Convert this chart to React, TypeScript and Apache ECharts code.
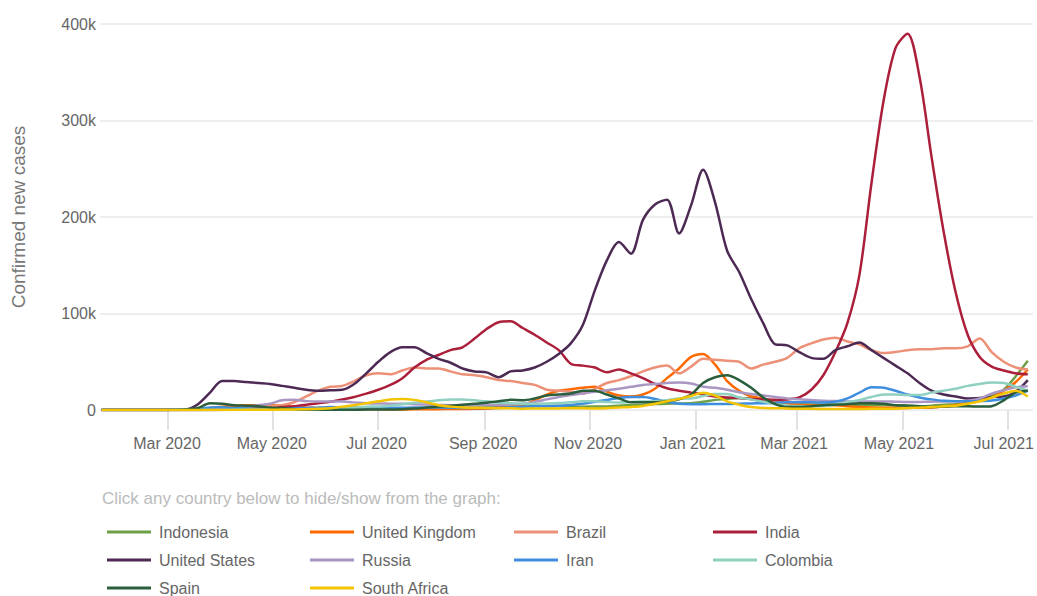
import React, { useEffect, useRef } from "react";
import * as echarts from "echarts";

const dates = [
  "2020-01-23","2020-01-30","2020-02-06","2020-02-13","2020-02-20","2020-02-27","2020-03-05","2020-03-12","2020-03-19","2020-03-26",
  "2020-04-02","2020-04-09","2020-04-16","2020-04-23","2020-04-30","2020-05-07","2020-05-14","2020-05-21","2020-05-28","2020-06-04",
  "2020-06-11","2020-06-18","2020-06-25","2020-07-02","2020-07-09","2020-07-16","2020-07-23","2020-07-30","2020-08-06","2020-08-13",
  "2020-08-20","2020-08-27","2020-09-03","2020-09-10","2020-09-17","2020-09-24","2020-10-01","2020-10-08","2020-10-15","2020-10-22",
  "2020-10-29","2020-11-05","2020-11-12","2020-11-19","2020-11-26","2020-12-03","2020-12-10","2020-12-17","2020-12-24","2020-12-31",
  "2021-01-07","2021-01-14","2021-01-21","2021-01-28","2021-02-04","2021-02-11","2021-02-18","2021-02-25","2021-03-04","2021-03-11",
  "2021-03-18","2021-03-25","2021-04-01","2021-04-08","2021-04-15","2021-04-22","2021-04-29","2021-05-06","2021-05-13","2021-05-20",
  "2021-05-27","2021-06-03","2021-06-10","2021-06-17","2021-06-24","2021-07-01","2021-07-08","2021-07-15"
];

// values in thousands of confirmed new cases (7-day average)
const indonesia = [
  0,0,0,0,0,0,0,0,0,0,
  0.1,0.2,0.3,0.3,0.3,0.35,0.45,0.55,0.6,0.65,
  0.9,1,1.1,1.3,1.5,1.6,1.7,1.9,1.9,2,
  2.1,2.3,2.8,3.2,3.7,4,4.3,4.2,4.2,4,
  3.4,3.6,3.7,4.5,5,5.5,6.2,6.6,6.8,7,
  8.5,10.5,11.5,12.5,11.5,9,8.5,7.5,6.5,5.8,
  5.5,5.5,5.5,5,5,5,5,4.5,3.5,4.5,
  5.5,6,7.5,10,14.5,21,35,51
];
const unitedKingdom = [
  0,0,0,0,0,0,0,0.1,0.5,1.8,
  3.5,4.5,4.8,4.8,4.8,4.3,3.4,2.7,2.2,1.8,
  1.4,1.2,0.95,0.8,0.6,0.6,0.65,0.75,0.9,1,
  1.1,1.2,1.4,2.5,3.5,5,10,16,20,21.5,
  23,24,19,15,14,16,22,33,43,55,
  58,47,30,20,14,12,8.5,7,5.5,5,
  5,5,4,3,2.5,2.3,2.2,2.2,2.3,2.6,
  3.5,5,7,9.5,13,20,29,42
];
const brazil = [
  0,0,0,0,0,0,0,0,0.05,0.2,
  0.8,1.2,1.8,2.5,4,5,8,14,20,24,
  25,30,36,38,37,41,44,43,43,40,
  37,36,34,31,30,28,26,21,20,19,
  17,22,28,31,35,40,44,46,38,45,
  53,52,51,50,43,47,50,54,64,69,
  73,75,71,68,62,59,60,62,63,63,
  64,64,66,74,60,50,44,42
];
const india = [
  0,0,0,0,0,0,0,0,0,0.1,
  0.3,0.8,1.1,1.5,1.8,3,3.8,5.5,7,8.5,
  11,13.5,17,21,26,33,44,52,57,62,
  65,74,84,91,92,85,78,70,62,48,
  46,44,39,42,38,33,27,22.5,20,18,
  16,14,13,12.5,11.5,11,10.5,11,13,21,
  36,60,90,140,235,320,375,390,345,262,
  185,122,78,55,45,41,38,37
];
const unitedStates = [
  0,0,0,0,0,0,0.2,0.5,6,18,
  30,30,29,28,27,25,23,21,20,20.5,
  21,27,38,50,60,65,65,59,53,49,
  43,40,39,34,40,41,44,50,58,69,
  88,124,155,174,162,197,213,218,183,212,
  249,215,165,143,115,90,68,67,60,54,
  53,62,66,70,62,54,46,38,28,20,
  16,14,12,12.5,13.5,14,19,31
];
const russia = [
  0,0,0,0,0,0,0,0,0,0.1,
  0.5,1.4,3.3,5,6.5,10,10.5,9.2,8.7,8.8,
  8.7,7.9,7,6.7,6.6,6.4,6,5.6,5.2,5,
  4.8,4.8,5,5.3,5.8,6.5,8.5,11,13.5,15.5,
  17,19,20.5,22,24,26,27,28,28.5,27.5,
  24,23,21,18.5,16.5,15,13.5,12,11.2,10.3,
  9.6,9.2,8.9,8.8,8.7,8.9,8.6,8.3,8.4,8.6,
  8.8,9,9.7,12,17,20.5,23.5,24.5
];
const iran = [
  0,0,0,0,0,0.1,0.5,0.9,1.1,2.5,
  2.9,2.1,1.6,1.2,1.1,1.4,1.8,2.2,2.5,3,
  2.6,2.5,2.6,2.7,2.4,2.4,2.5,2.5,2.5,2.3,
  2.2,2.1,2,2.2,2.8,3.4,3.8,4,4.3,5.2,
  6.5,8.5,10.5,12.5,13.5,13.5,11.5,8.5,6.5,6,
  6,6.2,6.2,6.5,6.8,7,7.5,8,8,8,
  7.8,8.5,12,18,23.5,23,20,16,13,11,
  9.5,9,9,9.2,9.8,12,15,20
];
const colombia = [
  0,0,0,0,0,0,0,0,0.02,0.06,
  0.1,0.15,0.2,0.25,0.35,0.45,0.5,0.65,0.8,1.1,
  1.6,2.5,3.4,3.6,4.5,6,7.5,8.8,10,11,
  11,10,9,7.5,7,6.5,6.5,6.8,7.2,8,
  9,9,8.3,7.8,8.3,8.8,9,10,12,12,
  14.5,16.5,16.5,13,11,8.5,6,4.5,4,3.7,
  4.2,5.5,8,10.5,13.5,16,16,15.5,15.5,18,
  20,22,25,27,28.5,28,24,20
];
const spain = [
  0,0,0,0,0,0,0.05,0.4,2,7,
  6.5,5,4.5,4,2.5,2,1,0.6,0.4,0.3,
  0.3,0.35,0.4,0.4,0.6,0.9,1.5,2.5,3.5,4.5,
  5.5,6.5,7.5,9,10.5,10,12,15,16,17,
  20,20,16,12,8,8,8,9,11,16,
  28,34,36,31,23,13,6,3,3,4,
  5,5.5,6,7,7,6.5,5,4.5,4,3,
  3.5,4,4,3.5,4,10,18,20
];
const southAfrica = [
  0,0,0,0,0,0,0,0,0,0.1,
  0.1,0.1,0.15,0.2,0.3,0.45,0.6,0.8,1.2,1.7,
  3.5,5,7,9,11,11.5,10.5,8,5,3.5,
  2.5,2.3,2.1,1.8,1.8,1.4,1.5,1.5,1.6,1.8,
  1.7,1.6,1.9,2.6,3.2,4.2,6.5,9,11.5,14.5,
  18,15,9,5.5,3,2,1.8,1.6,1.2,1.2,
  1.1,1.1,1.2,1.1,1.2,1.2,1.3,2,2.5,3,
  4,4.5,6.5,9,13,17,20,14
];

const countries = [
  "Indonesia","United Kingdom","Brazil","India","United States",
  "Russia","Iran","Colombia","Spain","South Africa"
];
const seriesValues = [
  indonesia, unitedKingdom, brazil, india, unitedStates,
  russia, iran, colombia, spain, southAfrica
];
const colors = [
  "#6ea046","#ff6a00","#ec9178","#ac1f3a","#4d2a54",
  "#a996c2","#3e8ee0","#8fd0c0","#2a5e3c","#f5c400"
];
const yTicks = [0, 100, 200, 300, 400];
const monthNames = ["Jan","Feb","Mar","Apr","May","Jun","Jul","Aug","Sep","Oct","Nov","Dec"];

const FONT = "'Liberation Sans', Arial, sans-serif";
const X_MIN = "2020-01-22";
const X_MAX = "2021-07-18";
const TWO_MONTHS = 62 * 86400000;

export default function App() {
  const ref = useRef<HTMLDivElement>(null);
  useEffect(() => {
    if (!ref.current) return;
    const chart = echarts.init(ref.current, undefined, { renderer: "svg" });
    const colX = [107, 310, 514, 713];
    const rowY = [533, 561, 589];
    const legends = countries.map((name, i) => ({
      data: [name],
      left: colX[i % 4],
      top: rowY[Math.floor(i / 4)] - 9,
      padding: 0,
      itemWidth: 44,
      itemHeight: 3,
      icon: "rect",
      itemGap: 0,
      textStyle: { fontSize: 16, color: "#666", fontFamily: FONT, padding: [0, 0, 0, 3] },
    }));
    chart.setOption({
      animation: false,
      color: colors,
      grid: [
        { left: 100, right: 0, top: 24, bottom: 186, containLabel: false },
        { left: 100, right: 0, top: 411, height: 19, containLabel: false },
      ],
      legend: legends,
      graphic: [
        {
          type: "text",
          left: 102,
          top: 490,
          style: {
            text: "Click any country below to hide/show from the graph:",
            fontSize: 17,
            fill: "#bbb",
            fontFamily: FONT,
          },
        },
      ],
      xAxis: [
        {
          type: "time",
          gridIndex: 0,
          min: X_MIN,
          max: X_MAX,
          minInterval: TWO_MONTHS,
          maxInterval: TWO_MONTHS,
          splitNumber: 8,
          axisLine: { show: false },
          axisTick: { show: false },
          splitLine: { show: false },
          axisLabel: {
            fontSize: 16,
            color: "#666",
            fontFamily: FONT,
            margin: 25,
            showMinLabel: false,
            showMaxLabel: false,
            formatter: (val: number) => {
              const d = new Date(val);
              return monthNames[d.getMonth()] + " " + d.getFullYear();
            },
          },
        },
        {
          type: "time",
          gridIndex: 1,
          min: X_MIN,
          max: X_MAX,
          minInterval: TWO_MONTHS,
          maxInterval: TWO_MONTHS,
          splitNumber: 8,
          axisLine: { show: false },
          axisTick: { show: false },
          axisLabel: { show: false },
          splitLine: {
            show: true,
            showMinLine: false,
            showMaxLine: false,
            lineStyle: { color: "#e2e2e2", width: 2 },
          },
        },
      ],
      yAxis: [
        {
          type: "value",
          gridIndex: 0,
          min: yTicks[0],
          max: yTicks[yTicks.length - 1],
          interval: 100,
          name: "Confirmed new cases",
          nameLocation: "middle",
          nameRotate: 90,
          nameGap: 72,
          nameTextStyle: { fontSize: 19, color: "#777", fontFamily: FONT },
          axisLine: { show: false },
          axisTick: { show: false },
          splitLine: { lineStyle: { color: "#eeeeee", width: 2 } },
          axisLabel: {
            fontSize: 16,
            color: "#666",
            fontFamily: FONT,
            margin: 4,
            formatter: (v: number) => (v === 0 ? "0" : v + "k"),
          },
        },
        {
          type: "value",
          gridIndex: 1,
          min: 0,
          max: 1,
          show: false,
          splitLine: { show: false },
        },
      ],
      series: countries.map((name, i) => ({
        name,
        type: "line",
        xAxisIndex: 0,
        yAxisIndex: 0,
        data: dates.map((d, j) => [d, seriesValues[i][j]]),
        showSymbol: false,
        symbol: "none",
        smooth: 0.3,
        lineStyle: { width: 2.5, color: colors[i] },
        itemStyle: { color: colors[i] },
        emphasis: { disabled: true },
      })),
    });
    return () => chart.dispose();
  }, []);
  return (
    <div
      ref={ref}
      style={{ position: "fixed", left: 0, top: 0, width: 1037, height: 596, background: "#fff" }}
    />
  );
}
